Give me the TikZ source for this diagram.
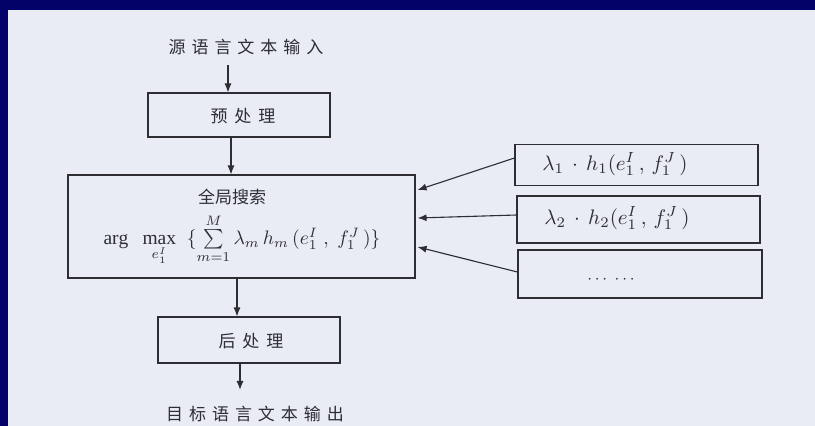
\documentclass[tikz,border=0pt]{standalone}
\usepackage{fontspec}
\setmainfont{Liberation Serif}
\newfontfamily\cjk{Noto Sans CJK SC}
\newfontfamily\cjksp[LetterSpace=35]{Noto Sans CJK SC}
\newfontfamily\cjkbox[LetterSpace=40]{Noto Sans CJK SC}
\usetikzlibrary{arrows.meta}
\definecolor{navy}{RGB}{2,2,104}
\definecolor{paper}{RGB}{233,235,245}
\definecolor{ink}{RGB}{45,45,50}
\begin{document}
\begin{tikzpicture}[x=1pt,y=-1pt,
  boxn/.style={draw=ink,line width=1.1pt,inner sep=0pt},
  lbl/.style={text=ink,inner sep=2pt},
  arr/.style={draw=ink,line width=1.1pt,-{Latex[length=9pt,width=7pt]}}]
\fill[navy] (0,0) rectangle (815,426);
\fill[paper] (8,10) rectangle (815,426);
\useasboundingbox (0,0) rectangle (815,426);
% left column
\node[lbl,font=\cjksp\fontsize{17}{20}\selectfont] (src) at (246,47) {源语言文本输入};
\node[boxn,minimum width=182pt,minimum height=44pt] (pre) at (239,115) {};
\node[lbl,font=\cjkbox\fontsize{17}{20}\selectfont] (pret) at (243,116) {预处理};
\node[boxn,minimum width=347pt,minimum height=103pt] (big) at (241.5,226.5) {};
\node[lbl,font=\cjk\fontsize{17}{20}\selectfont] (bigt) at (232,197) {全局搜索};
\node[lbl,scale=1.95,transform shape] (bigf) at (242,240)
  {$\arg\;\;\max\limits_{e_1^I}\;\;\{\sum\limits_{m=1}^{M}\lambda_m\, h_m\,(e_1^I\;,\;f_1^J\,)\}$};
\node[boxn,minimum width=182pt,minimum height=46pt] (post) at (249,340) {};
\node[lbl,font=\cjkbox\fontsize{17}{20}\selectfont] (postt) at (251,341) {后处理};
\node[lbl,font=\cjksp\fontsize{17}{20}\selectfont] (out) at (255,414) {目标语言文本输出};
% right column
\node[boxn,minimum width=243pt,minimum height=41pt] (b1) at (636.5,165) {};
\node[lbl,scale=2.1,transform shape] (b1t) at (615,164) {$\lambda_1\,\cdot\,h_1(e_1^I\,,\,f_1^J\,)$};
\node[boxn,minimum width=243pt,minimum height=47pt] (b2) at (638.5,219.5) {};
\node[lbl,scale=2.1,transform shape] (b2t) at (617,218) {$\lambda_2\,\cdot\,h_2(e_1^I\,,\,f_1^J\,)$};
\node[boxn,minimum width=244pt,minimum height=48pt] (b3) at (640,274) {};
\node[lbl,scale=1.7,transform shape] (b3t) at (611,280) {$\cdots\;\cdots$};
% vertical flow
\draw[arr] ([xshift=-18pt,yshift=-8pt]src.south) -- ([xshift=-11pt]pre.north);
\draw[arr] ([xshift=-8pt]pre.south) -- ([xshift=-10.5pt]big.north);
\draw[arr] ([xshift=-4.5pt]big.south) -- ([xshift=-12pt]post.north);
\draw[arr] ([xshift=-9pt]post.south) -- ([xshift=-15pt,yshift=14pt]out.north);
% feature arrows
\draw[arr] ([yshift=7pt]b1.west) -- ([xshift=2pt,yshift=36.5pt]big.east);
\draw[arr] ([yshift=4.5pt]b2.west) -- ([xshift=2pt,yshift=8.5pt]big.east);
\draw[arr] ([yshift=2pt]b3.west) -- ([xshift=2pt,yshift=-20.5pt]big.east);
\end{tikzpicture}
\end{document}
